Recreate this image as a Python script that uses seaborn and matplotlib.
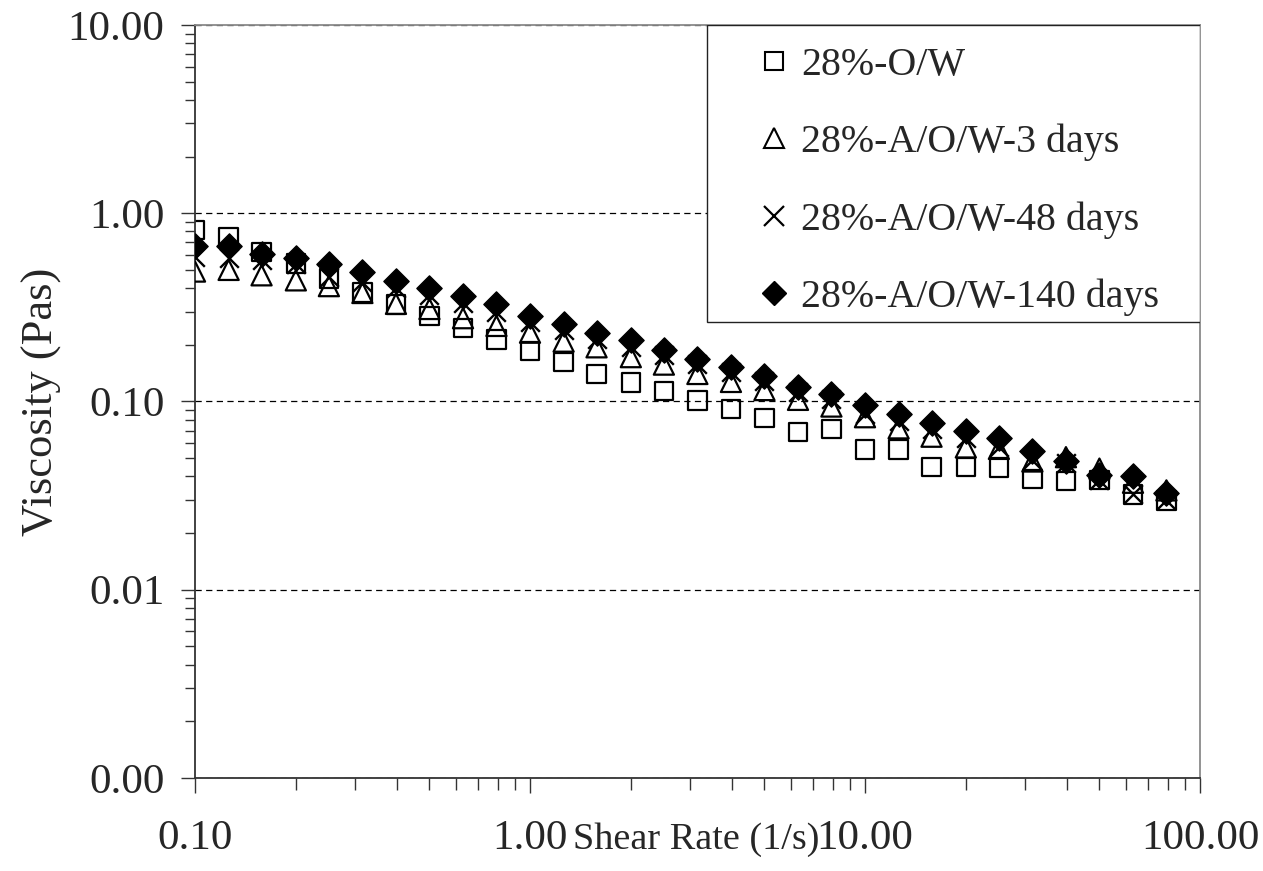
import numpy as np
import pandas as pd
import matplotlib
matplotlib.use("Agg")
import matplotlib.pyplot as plt
from matplotlib.patches import Rectangle
from matplotlib.lines import Line2D
from matplotlib.ticker import LogLocator, FixedLocator, FuncFormatter, NullFormatter
import seaborn as sns

# ---------------- data ----------------
shear_rate = [0.100, 0.126, 0.158, 0.200, 0.251, 0.316, 0.398, 0.501, 0.631, 0.794,
              1.00, 1.26, 1.58, 2.00, 2.51, 3.16, 3.98, 5.01, 6.31, 7.94,
              10.0, 12.6, 15.8, 20.0, 25.1, 31.6, 39.8, 50.1, 63.1, 79.4]

visc_ow = [0.815, 0.742, 0.622, 0.540, 0.450, 0.380, 0.328, 0.284, 0.246, 0.213,
           0.186, 0.162, 0.140, 0.126, 0.1135, 0.101, 0.0914, 0.082, 0.0687, 0.0713,
           0.0557, 0.0557, 0.0450, 0.0450, 0.0445, 0.0387, 0.0377, 0.0384, 0.0321, 0.0298]

visc_3d = [0.490, 0.500, 0.468, 0.440, 0.410, 0.377, 0.330, 0.310, 0.277, 0.252,
           0.232, 0.208, 0.194, 0.172, 0.157, 0.140, 0.127, 0.115, 0.102, 0.094,
           0.0825, 0.072, 0.065, 0.057, 0.056, 0.048, 0.0506, 0.0440, 0.037, 0.0337]

visc_48d = [0.586, 0.578, 0.562, 0.540, 0.458, 0.430, 0.400, 0.370, 0.335, 0.300,
            0.265, 0.240, 0.215, 0.195, 0.176, 0.158, 0.143, 0.128, 0.112, 0.103,
            0.086, 0.079, 0.071, 0.064, 0.057, 0.049, 0.047, 0.0384, 0.0323, 0.0300]

visc_140d = [0.667, 0.667, 0.610, 0.580, 0.540, 0.487, 0.436, 0.403, 0.363, 0.328,
             0.284, 0.257, 0.232, 0.211, 0.188, 0.169, 0.152, 0.137, 0.119, 0.110,
             0.0963, 0.0861, 0.0773, 0.0695, 0.0636, 0.0544, 0.0484, 0.0409, 0.0401, 0.0327]

series_names = ["28%-O/W", "28%-A/O/W-3 days", "28%-A/O/W-48 days", "28%-A/O/W-140 days"]
series_values = [visc_ow, visc_3d, visc_48d, visc_140d]

y_ticks = [0.001, 0.01, 0.1, 1.0, 10.0]
x_ticks = [0.1, 1.0, 10.0, 100.0]

# ---------------- style ----------------
sns.set_theme(style="white")
plt.rcParams["font.family"] = ["Liberation Serif", "DejaVu Serif"]

df = pd.DataFrame({
    "shear": np.tile(shear_rate, len(series_names)),
    "visc": np.concatenate(series_values),
    "series": np.repeat(series_names, len(shear_rate)),
})

fig = plt.figure(figsize=(12.63, 8.71), dpi=100)
ax = fig.add_axes([0.1544, 0.1068, 0.7957, 0.8645])

styles = {
    "28%-O/W": dict(marker="s", s=175, facecolor="none", edgecolor="black", color="black", linewidth=1.6),
    "28%-A/O/W-3 days": dict(marker="^", s=210, facecolor="none", edgecolor="black", color="black", linewidth=1.6),
    "28%-A/O/W-48 days": dict(marker="x", s=180, color="black", linewidth=1.7),
    "28%-A/O/W-140 days": dict(marker="D", s=165, facecolor="black", edgecolor="black", color="black", linewidth=1.0),
}

for i, name in enumerate(series_names):
    sub = df[df["series"] == name]
    sns.scatterplot(data=sub, x="shear", y="visc", ax=ax, legend=False,
                    zorder=2 + i, **styles[name])

ax.set_xscale("log")
ax.set_yscale("log")
ax.set_xlim(0.1, 100)
ax.set_ylim(0.001, 10)

fmt = FuncFormatter(lambda v, p: f"{v:.2f}")
ax.xaxis.set_major_locator(FixedLocator(x_ticks))
ax.yaxis.set_major_locator(FixedLocator(y_ticks))
ax.xaxis.set_minor_locator(LogLocator(base=10, subs=np.arange(2, 10)))
ax.yaxis.set_minor_locator(LogLocator(base=10, subs=np.arange(2, 10)))
ax.xaxis.set_major_formatter(fmt)
ax.yaxis.set_major_formatter(fmt)
ax.xaxis.set_minor_formatter(NullFormatter())
ax.yaxis.set_minor_formatter(NullFormatter())

ax.tick_params(axis="x", which="major", direction="out", length=11, width=1.0,
               color="#333333", labelsize=31, pad=19, bottom=True, top=False)
ax.tick_params(axis="x", which="minor", direction="out", length=8.5, width=1.0,
               color="#333333", bottom=True, top=False)
ax.tick_params(axis="y", which="major", direction="out", length=10, width=1.0,
               color="#333333", labelsize=31, pad=12, left=True, right=False)
ax.tick_params(axis="y", which="minor", direction="out", length=7, width=1.0,
               color="#333333", left=True, right=False)

# dashed horizontal gridlines
ax.set_axisbelow(True)
ax.yaxis.grid(True, which="major", color="black", linestyle=(0, (5, 3.5)), linewidth=0.9)
ax.xaxis.grid(False)

for side in ["left", "bottom"]:
    ax.spines[side].set_color("#333333")
    ax.spines[side].set_linewidth(1.3)
for side in ["top", "right"]:
    ax.spines[side].set_color("#8a8a8a")
    ax.spines[side].set_linewidth(1.3)

ax.set_ylabel("Viscosity (Pas)", fontsize=32, labelpad=4)
ax.set_xlabel("Shear Rate (1/s)", fontsize=27.5, va="top")
ax.xaxis.set_label_coords(0.4985, -0.059)

# legend box (frame drawn as rectangle so it sits flush with the axes corner)
ax.add_patch(Rectangle((0.5095, 0.6056), 0.4905, 0.3944, transform=ax.transAxes,
                       facecolor="white", edgecolor="#222222", linewidth=1.0, zorder=6))
handles = [
    Line2D([], [], linestyle="none", marker="s", markersize=13, markerfacecolor="none",
           markeredgecolor="black", markeredgewidth=1.5),
    Line2D([], [], linestyle="none", marker="^", markersize=14, markerfacecolor="none",
           markeredgecolor="black", markeredgewidth=1.5),
    Line2D([], [], linestyle="none", marker="x", markersize=14, color="black",
           markeredgewidth=1.6),
    Line2D([], [], linestyle="none", marker="D", markersize=12, color="black"),
]
leg = ax.legend(handles, series_names, loc="upper left", bbox_to_anchor=(0.5547, 0.971),
                frameon=False, fontsize=28.7, handlelength=1.1, handletextpad=0.12,
                labelspacing=1.0, borderpad=0, borderaxespad=0, numpoints=1)
leg.set_zorder(7)

fig.savefig("out.png", dpi=100, facecolor="white")
